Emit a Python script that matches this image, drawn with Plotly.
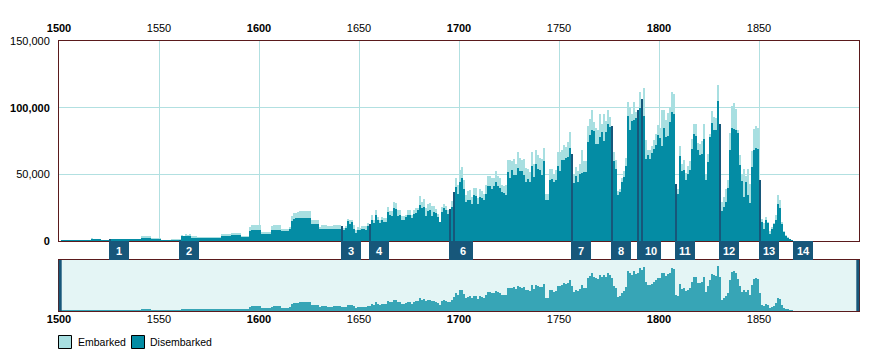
import plotly.graph_objects as go

# ---------------- data (people per year) ----------------
first_year = 1501

emb_1501_1600 = [
    500, 500, 500, 500, 500, 500, 500, 500, 500, 500,
    500, 500, 500, 500, 500, 2200, 1200, 1200, 1200, 1200,
    500, 500, 500, 500, 1600, 1600, 1600, 1600, 1600, 1600,
    1600, 1600, 1600, 1600, 1600, 1000, 1000, 1000, 1000, 1000,
    3700, 3700, 3700, 3700, 3700, 2000, 2000, 2000, 2000, 2000,
    700, 700, 700, 700, 700, 800, 800, 800, 800, 800,
    4200, 3700, 4900, 4200, 5200, 3700, 3700, 3700, 2700, 2700,
    2700, 2700, 2700, 2700, 2700, 2700, 2700, 2700, 2700, 2700,
    5200, 5200, 5200, 5200, 5200, 5900, 5900, 5900, 5900, 5900,
    3700, 3700, 3700, 3700, 10600, 11800, 11800, 11800, 11800, 11800,
]
emb_1601_1700 = [
    7100, 7100, 7100, 7100, 7100, 11000, 11800, 11800, 11800, 11800,
    9100, 9100, 9100, 9100, 10300, 18500, 20700, 21000, 22100, 22400,
    22400, 22400, 22400, 22400, 22400, 15500, 15500, 15500, 15500, 10600,
    12300, 12300, 12300, 11100, 11100, 11100, 12300, 12300, 12300, 12300,
    11100, 10100, 11100, 16700, 16000, 15500, 11800, 8100, 10600, 10100,
    11100, 11100, 11100, 13500, 13000, 19200, 16000, 23400, 18000, 15500,
    18000, 17000, 17500, 25800, 22400, 22400, 29500, 28500, 22900, 22900,
    18500, 18500, 19700, 22900, 22900, 19200, 22900, 24800, 24800, 33700,
    29000, 31500, 24800, 27800, 28600, 26100, 26100, 24200, 19900, 14400,
    25600, 28100, 26100, 23200, 23900, 29900, 36600, 47100, 42300, 53500,
]
emb_1701_1800 = [
    55500, 45600, 34400, 37600, 38100, 33100, 39600, 39600, 32600, 39100,
    37600, 35100, 41800, 49100, 48600, 47600, 47600, 52300, 48600, 47100,
    41800, 41100, 41800, 60500, 61000, 60000, 61500, 58000, 66500, 62300,
    60500, 61500, 55000, 54300, 51500, 67000, 58000, 68500, 64200, 62500,
    61800, 69500, 35100, 35100, 54000, 54000, 50000, 53000, 66500, 66500,
    68500, 72200, 70500, 74000, 81400, 65000, 50500, 55500, 52500, 58000,
    68000, 59800, 59800, 85900, 91600, 97900, 89600, 84900, 82900, 94900,
    87900, 94900, 89900, 97900, 92900, 86400, 66500, 61000, 37600, 39300,
    47600, 52500, 62300, 104100, 100300, 94900, 104100, 96600, 97900, 111500,
    106600, 114800, 75400, 68000, 68000, 71000, 75400, 79900, 87200, 84900,
]
emb_1801_1866 = [
    97900, 98400, 90400, 95900, 100300, 111500, 110300, 42600, 39300, 71500,
    57500, 60500, 51000, 56000, 60000, 76400, 87900, 87900, 73500, 73000,
    75000, 87400, 50500, 65500, 80400, 97400, 92900, 92400, 117300, 87400,
    29400, 33100, 39300, 46100, 80900, 101600, 103300, 99100, 83400, 64200,
    50500, 54300, 48600, 54300, 42600, 67200, 84200, 85900, 84700, 46100,
    16400, 13200, 17700, 14400, 7200, 10200, 13200, 19700, 34400, 31100,
    14400, 7200, 4500, 2700, 1200, 700,
]

dis_1501_1600 = [
    350, 350, 350, 350, 350, 350, 350, 350, 350, 350,
    350, 350, 350, 350, 350, 1700, 900, 900, 900, 900,
    400, 400, 400, 400, 1500, 1500, 1500, 1500, 1500, 1500,
    1500, 1500, 1500, 1500, 1500, 900, 900, 900, 900, 900,
    2200, 2200, 2200, 2200, 2200, 1500, 1500, 1500, 1500, 1500,
    600, 600, 600, 600, 600, 700, 700, 700, 700, 700,
    3500, 3500, 3700, 3500, 3800, 2300, 2300, 2300, 2300, 2300,
    2300, 2300, 2300, 2300, 2300, 2300, 2300, 2300, 2300, 2300,
    3900, 3900, 3900, 3900, 3900, 4400, 4400, 4400, 4400, 4400,
    2900, 2900, 2900, 2900, 7400, 8600, 8600, 8100, 8100, 8100,
]
dis_1601_1700 = [
    5400, 5400, 5400, 5400, 5400, 8400, 8600, 8600, 8600, 8600,
    7600, 7600, 7600, 7600, 8900, 14800, 16200, 17200, 17200, 17000,
    17000, 17000, 17000, 17000, 17000, 12800, 12800, 12800, 12800, 9300,
    9300, 9300, 9300, 9300, 9300, 9300, 9300, 9300, 9300, 9300,
    11100, 8100, 10100, 14800, 13000, 14300, 9300, 6200, 8600, 8100,
    9100, 9300, 8600, 11100, 13000, 15500, 13500, 19200, 15500, 13500,
    15500, 14500, 14300, 21400, 19200, 18500, 24600, 23900, 18500, 19700,
    15500, 15500, 18000, 19200, 19200, 17500, 20400, 20900, 22900, 27300,
    24800, 25300, 18500, 22400, 23200, 18900, 21900, 21200, 17700, 14400,
    21900, 24400, 23200, 19900, 23900, 25600, 36600, 40600, 35600, 44100,
]
dis_1701_1800 = [
    47100, 39100, 29100, 31100, 31100, 27600, 34400, 33600, 27600, 33100,
    32600, 30600, 35100, 41100, 41100, 39300, 41100, 44100, 41100, 39800,
    36900, 36100, 34600, 51500, 47600, 53000, 49300, 49300, 54800, 52300,
    52300, 49300, 44100, 46600, 44100, 56500, 48100, 57500, 53800, 53500,
    49300, 60000, 31100, 30600, 46100, 46800, 44000, 46100, 56000, 52300,
    61000, 61000, 62500, 63000, 70000, 65000, 43600, 48600, 44300, 50500,
    51000, 51500, 51500, 74000, 79200, 83400, 82400, 73000, 73000, 77900,
    81700, 75000, 81700, 87900, 85400, 86400, 60000, 54300, 34400, 36600,
    44100, 48100, 56000, 94100, 83400, 89900, 90900, 91900, 97900, 99600,
    106600, 94100, 61800, 64200, 61800, 66000, 69200, 71700, 79200, 77400,
]
dis_1801_1866 = [
    71000, 84900, 77900, 78400, 89100, 96600, 95400, 42600, 35600, 63500,
    52500, 53000, 45600, 50000, 53500, 69200, 79900, 78400, 68000, 64200,
    65500, 76700, 45600, 59000, 77900, 88400, 82900, 83400, 105300, 87400,
    22700, 25600, 29400, 39800, 68000, 84900, 84200, 82900, 80900, 56800,
    45100, 33100, 44300, 34400, 28600, 55500, 68500, 70000, 69200, 46100,
    14400, 9000, 15700, 13200, 5200, 9000, 12700, 15700, 28100, 24400,
    12700, 6700, 4000, 2200, 1000, 600,
]

marker_years = [1525, 1560, 1641, 1655, 1695, 1697, 1756, 1776, 1789, 1791, 1808, 1830, 1850, 1867]
marker_labels = ["1", "2", "3", "4", "5", "6", "7", "8", "9", "10", "11", "12", "13", "14"]
marker_box_years = 10  # each event box spans ten years of axis

x_tick_vals = [1500, 1550, 1600, 1650, 1700, 1750, 1800, 1850]
x_tick_text = ["<b>1500</b>", "1550", "<b>1600</b>", "1650", "<b>1700</b>", "1750", "<b>1800</b>", "1850"]
y_tick_vals = [0, 50000, 100000, 150000]
y_tick_text = ["<b>0</b>", "50,000", "<b>100,000</b>", "150,000"]

# ---------------- assemble ----------------
embarked = emb_1501_1600 + emb_1601_1700 + emb_1701_1800 + emb_1801_1866
disembarked = dis_1501_1600 + dis_1601_1700 + dis_1701_1800 + dis_1801_1866
assert len(embarked) == len(disembarked)
years = list(range(first_year, first_year + len(embarked)))
xs = [y + 0.5 for y in years]  # each bar spans its year
dis_by_year = dict(zip(years, disembarked))
mk_x = [y + 0.5 for y in marker_years if y in dis_by_year]
mk_y = [dis_by_year[y] for y in marker_years if y in dis_by_year]

C_EMB = "#a8dfe1"
C_DIS = "#048ca4"
C_MARK = "#17577a"
C_NAV = "#37a5b6"
C_NAVBG = "#e4f5f5"
C_GRID = "#b2e0e1"
C_BORDER = "#5a1a1c"
FONT = "Liberation Sans, Arial, sans-serif"

OFF = 8  # page body margin of the html page
W, H = 891, 361
L, T = 59 - OFF, 41 - OFF
R = W - 800 - L
B = H - 270 - T
PW = W - L - R
PH = H - T - B


def px_x(p):  # page pixel -> paper
    return (p - OFF - L) / PW


def px_y(p):
    return (H - B - (p - OFF)) / PH


fig = go.Figure()
fig.add_trace(go.Bar(x=xs, y=embarked, width=1, name="Embarked",
                     marker=dict(color=C_EMB, line=dict(width=0)), opacity=1,
                     xaxis="x", yaxis="y"))
fig.add_trace(go.Bar(x=xs, y=disembarked, width=1, name="Disembarked",
                     marker=dict(color=C_DIS, line=dict(width=0)), opacity=1,
                     xaxis="x", yaxis="y"))
fig.add_trace(go.Bar(x=mk_x, y=mk_y, width=0.75, name="events",
                     marker=dict(color=C_MARK, line=dict(width=0)), opacity=1,
                     xaxis="x", yaxis="y"))
fig.add_trace(go.Bar(x=xs, y=embarked, width=1, name="overview",
                     marker=dict(color=C_NAV, line=dict(width=0)), opacity=1,
                     xaxis="x2", yaxis="y2"))

main_bottom = px_y(241)
box_bottom = px_y(260)
nav_top = px_y(260)

shapes = [
    dict(type="rect", xref="paper", yref="paper", x0=0, x1=1, y0=0, y1=nav_top,
         fillcolor=C_NAVBG, line=dict(width=0), layer="below"),
    dict(type="line", xref="paper", yref="paper", x0=px_x(60.2), x1=px_x(60.2), y0=0, y1=nav_top,
         line=dict(color=C_MARK, width=3)),
    dict(type="line", xref="paper", yref="paper", x0=px_x(857.8), x1=px_x(857.8), y0=0, y1=nav_top,
         line=dict(color=C_MARK, width=3)),
    # legend swatches
    dict(type="rect", xref="paper", yref="paper", x0=px_x(58.5), x1=px_x(71.5),
         y0=px_y(348.5), y1=px_y(335.5), fillcolor=C_EMB, line=dict(color="black", width=1)),
    dict(type="rect", xref="paper", yref="paper", x0=px_x(131.5), x1=px_x(144.5),
         y0=px_y(348.5), y1=px_y(335.5), fillcolor=C_DIS, line=dict(color="black", width=1)),
]

annotations = []
for i, (yr, lab) in enumerate(zip(marker_years, marker_labels)):
    shapes.append(dict(type="rect", xref="x", yref="paper", x0=yr, x1=yr + marker_box_years,
                       y0=box_bottom, y1=main_bottom, fillcolor=C_MARK, line=dict(width=0),
                       layer="above"))
    nxt = marker_years[i + 1] if i + 1 < len(marker_years) else None
    hidden = nxt is not None and nxt - yr < marker_box_years  # covered by next event box
    if not hidden:
        annotations.append(dict(
            x=yr + marker_box_years / 2, xref="x", y=(main_bottom + box_bottom) / 2, yref="paper",
            xanchor="center", yanchor="middle", text="<b>" + lab + "</b>", showarrow=False,
            font=dict(family=FONT, size=11, color="white")))
annotations.append(dict(x=px_x(76), y=px_y(342), xref="paper", yref="paper",
                        xanchor="left", yanchor="middle", text="Embarked", showarrow=False,
                        font=dict(family=FONT, size=10.5, color="black")))
annotations.append(dict(x=px_x(148), y=px_y(342), xref="paper", yref="paper",
                        xanchor="left", yanchor="middle", text="Disembarked", showarrow=False,
                        font=dict(family=FONT, size=10.5, color="black")))

tickfont = dict(family=FONT, size=11, color="black")
fig.update_layout(
    width=W, height=H,
    margin=dict(l=L, r=R, t=T, b=B, pad=0, autoexpand=False),
    paper_bgcolor="white", plot_bgcolor="white",
    barmode="overlay", bargap=0, showlegend=False,
    font=dict(family=FONT, size=11, color="black"),
    xaxis=dict(domain=[0, 1], anchor="y", range=[1500, 1900], side="top",
               tickvals=x_tick_vals, ticktext=x_tick_text, tickfont=tickfont,
               showgrid=True, gridcolor=C_GRID, gridwidth=1, zeroline=False,
               showline=True, mirror=True, linecolor=C_BORDER, linewidth=1,
               ticks="", ticklabelstandoff=4, automargin=False),
    yaxis=dict(domain=[main_bottom, 1], anchor="x", range=[0, 150000],
               tickvals=y_tick_vals, ticktext=y_tick_text, tickfont=tickfont,
               showgrid=True, gridcolor=C_GRID, gridwidth=1, zeroline=False,
               showline=True, mirror=True, linecolor=C_BORDER, linewidth=1,
               ticks="", ticklabelstandoff=6, automargin=False),
    xaxis2=dict(domain=[0, 1], anchor="y2", range=[1500, 1900], side="bottom",
                tickvals=x_tick_vals, ticktext=x_tick_text, tickfont=tickfont,
                showgrid=False, zeroline=False,
                showline=True, mirror=True, linecolor=C_BORDER, linewidth=1,
                ticks="", ticklabelstandoff=-2, automargin=False),
    yaxis2=dict(domain=[0, nav_top], anchor="x2", range=[0, 133000],
                showticklabels=False, showgrid=False, zeroline=False,
                showline=True, mirror=True, linecolor=C_BORDER, linewidth=1, ticks="",
                automargin=False),
    shapes=shapes,
    annotations=annotations,
)

fig.write_html("out.html")
